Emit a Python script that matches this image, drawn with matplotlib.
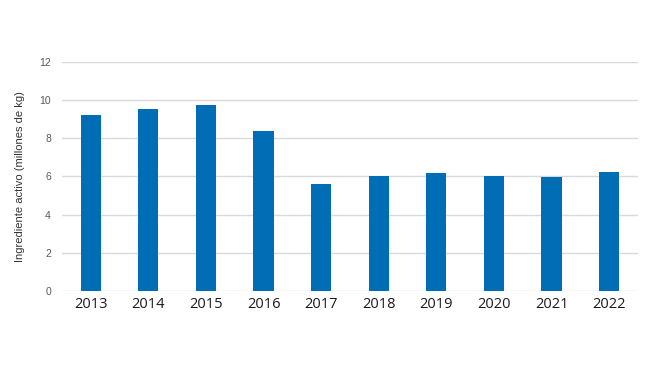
import matplotlib
matplotlib.use('Agg')
import matplotlib.pyplot as plt

years = ['2013', '2014', '2015', '2016', '2017', '2018', '2019', '2020', '2021', '2022']
values = [9.22, 9.52, 9.75, 8.39, 5.59, 6.04, 6.2, 6.03, 5.99, 6.25]
yticks = [0, 2, 4, 6, 8, 10, 12]

fig = plt.figure(figsize=(6.5, 3.66), dpi=100)
ax = fig.add_axes([0.0954, 0.205, 0.886, 0.6256])

ax.bar(range(len(years)), values, width=0.35, color='#006DB4', zorder=3)

ax.set_xlim(-0.5, len(years) - 0.5)
ax.set_ylim(0, 12)
ax.set_yticks(yticks)
ax.set_yticklabels([str(t) for t in yticks], fontsize=7.5, color='#595959', family='Liberation Sans')
ax.set_xticks(range(len(years)))
ax.set_xticklabels(years, fontsize=10.5, color='#1a1a1a', family='Open Sans')
ax.tick_params(axis='both', length=0)
ax.tick_params(axis='y', pad=8)
ax.tick_params(axis='x', pad=4)

ax.grid(axis='y', color='#d9d9d9', linewidth=1, zorder=0)
for s in ax.spines.values():
    s.set_visible(False)

ax.set_ylabel('Ingrediente activo (millones de kg)', fontsize=8, color='#333333',
              family='Liberation Sans', labelpad=10)

fig.savefig('out.png', dpi=100, facecolor='white')
